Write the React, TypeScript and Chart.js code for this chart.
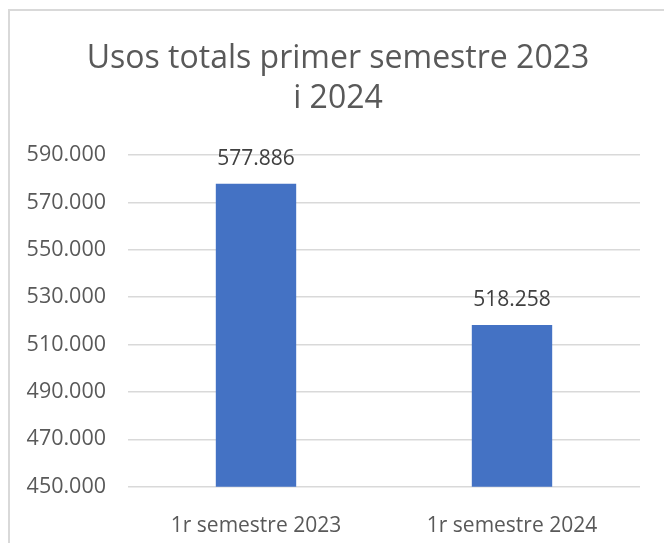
import React, { useEffect, useRef } from "react";
import { Chart, registerables } from "chart.js";

Chart.register(...registerables);

const categories = ["1r semestre 2023", "1r semestre 2024"];
const values = [577886, 518258];
const titleLines = ["Usos totals primer semestre 2023", "i 2024"];
const yMin = 450000;
const yMax = 590000;
const yStep = 20000;

const FONT = "'Open Sans', Lato, sans-serif";
const fmt = (n: number) => Math.round(n).toString().replace(/\B(?=(\d{3})+(?!\d))/g, ".");

const titlePlugin = {
  id: "customTitle",
  afterDraw(chart: any) {
    const ctx = chart.ctx;
    ctx.save();
    ctx.fillStyle = "#595959";
    ctx.font = `32px ${FONT}`;
    ctx.textAlign = "center";
    ctx.textBaseline = "middle";
    const cx = chart.width / 2 + 6;
    titleLines.forEach((t, i) => ctx.fillText(t, cx, 59 + i * 40));
    ctx.restore();
  },
};

const labelPlugin = {
  id: "dataLabels",
  afterDatasetsDraw(chart: any) {
    const ctx = chart.ctx;
    const meta = chart.getDatasetMeta(0);
    ctx.save();
    ctx.fillStyle = "#404040";
    ctx.font = `21px ${FONT}`;
    ctx.textAlign = "center";
    ctx.textBaseline = "middle";
    meta.data.forEach((bar: any, i: number) => {
      ctx.fillText(fmt(values[i]), bar.x, bar.y - 25);
    });
    ctx.restore();
  },
};

export default function App() {
  const ref = useRef<HTMLCanvasElement | null>(null);
  useEffect(() => {
    if (!ref.current) return;
    const chart = new Chart(ref.current, {
      type: "bar",
      data: {
        labels: categories,
        datasets: [
          {
            data: values,
            backgroundColor: "#4472C4",
            borderWidth: 0,
            barPercentage: 0.314,
            categoryPercentage: 1,
          },
        ],
      },
      options: {
        responsive: false,
        animation: false,
        layout: { padding: { top: 155, right: 24, bottom: 0, left: 0 } },
        plugins: {
          legend: { display: false },
          title: { display: false },
          tooltip: { enabled: false },
        },
        scales: {
          x: {
            grid: { display: false },
            border: { display: false },
            ticks: {
              color: "#595959",
              font: { family: FONT, size: 21 },
              padding: 19,
            },
            afterFit: (s: any) => {
              s.height = 56.3;
            },
          },
          y: {
            min: yMin,
            max: yMax,
            grid: { color: "#d9d9d9", lineWidth: 1.5, drawTicks: false },
            border: { display: false },
            ticks: {
              stepSize: yStep,
              color: "#595959",
              font: { family: FONT, size: 21.5 },
              padding: 22,
              callback: (v: any) => fmt(Number(v)),
            },
            afterFit: (s: any) => {
              s.width = 128;
            },
          },
        },
      },
      plugins: [titlePlugin, labelPlugin],
    });
    return () => chart.destroy();
  }, []);

  return (
    <div
      style={{
        position: "fixed",
        left: 0,
        top: 0,
        width: 664,
        height: 543,
        overflow: "hidden",
        background: "#ffffff",
      }}
    >
      <div
        style={{
          position: "absolute",
          left: 8,
          top: 9,
          width: 720,
          height: 600,
          border: "2px solid #d9d9d9",
          boxSizing: "border-box",
        }}
      />
      <canvas
        ref={ref}
        width={664}
        height={543}
        style={{ position: "absolute", left: 0, top: 0, width: 664, height: 543 }}
      />
    </div>
  );
}
